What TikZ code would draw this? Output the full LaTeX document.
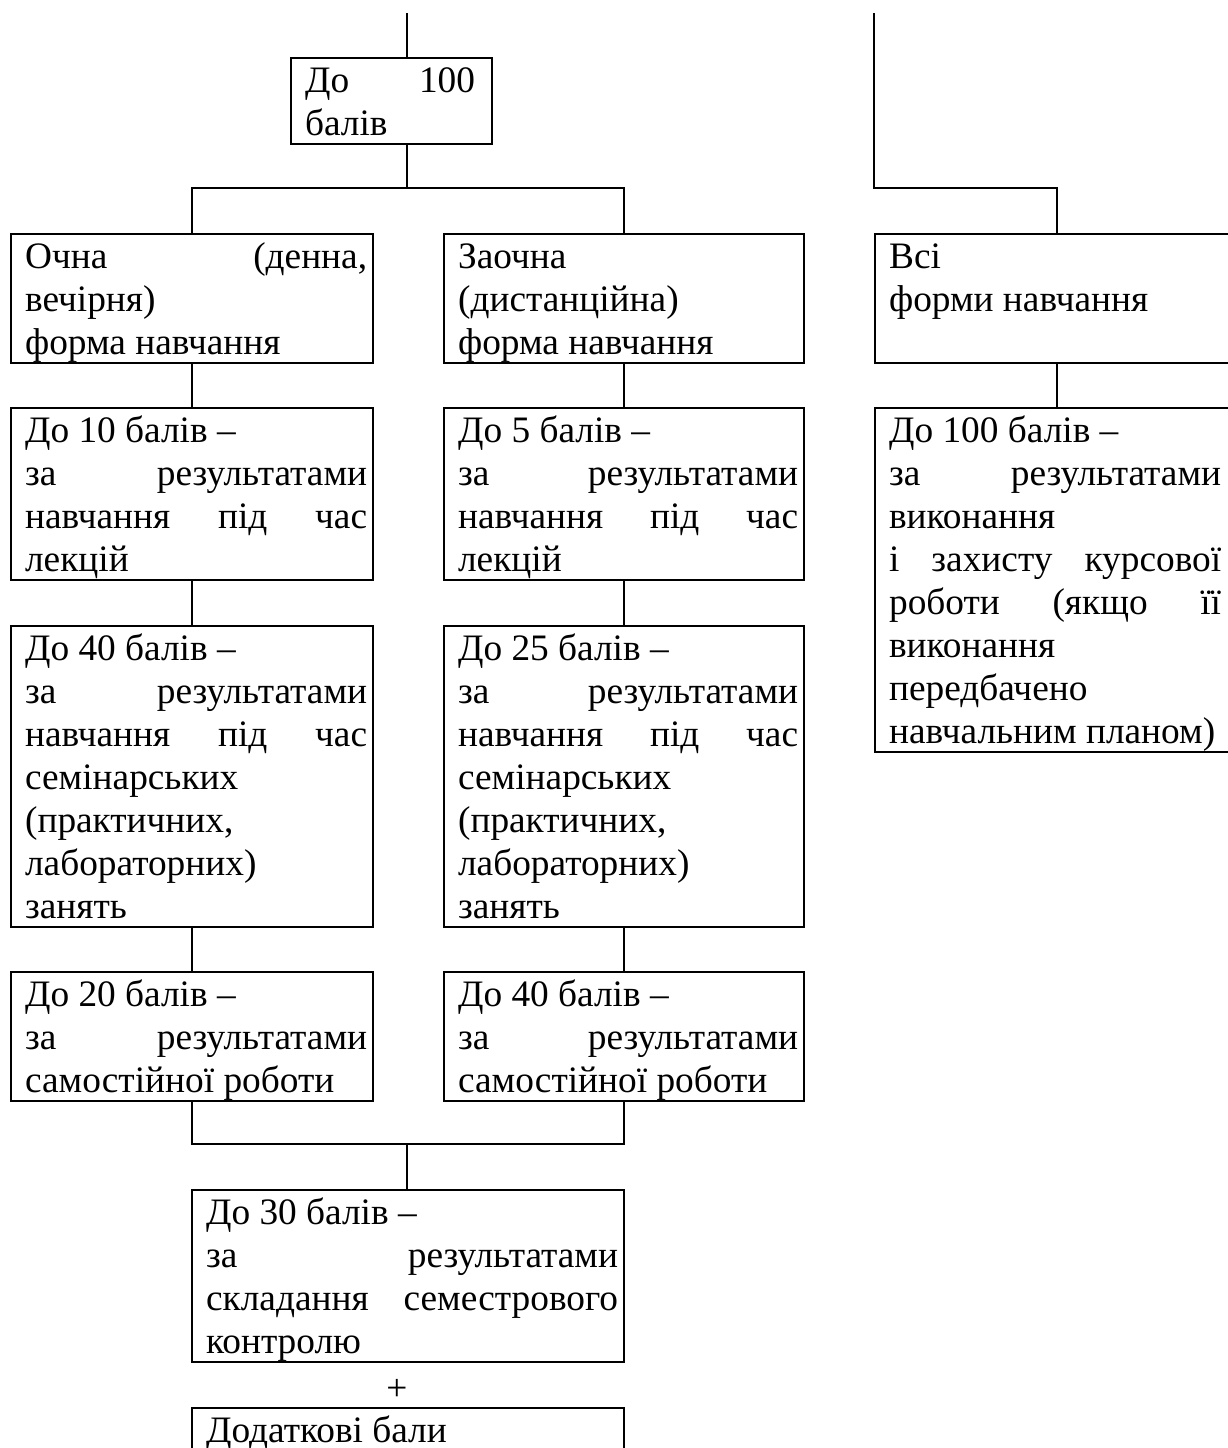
\documentclass[tikz,border=0pt]{standalone}
\usepackage{fontspec}
\setmainfont{Liberation Serif}

\newcommand{\st}{\rule[-9pt]{0pt}{43pt}}
\newcommand{\jline}[1]{\makebox[\linewidth][s]{\st#1}}
\newcommand{\lline}[1]{\st#1}

\tikzset{
  cell/.style={draw, anchor=north west, inner xsep=6pt, inner ysep=0pt,
    font=\fontsize{37.33pt}{43pt}\selectfont,
    execute at begin node={\hspace*{8pt}\begin{minipage}{#1}},
    execute at end node={\end{minipage}}},
  rpad/.style={execute at end node={\hspace*{#1}}}
}

\begin{document}
\begin{tikzpicture}[x=1pt,y=-1pt,line width=2.2pt]
  \useasboundingbox (0,0) rectangle (1227,1448);
  \coordinate (inA) at (407,13);
  \coordinate (inC) at (874,13);
  \coordinate (fork) at (407,188);
  \coordinate (join) at (407,1144);

  \node[cell=170pt,rpad=11pt] (top) at (290,57) {\jline{До 100}\\ \lline{балів}};

  \node[cell=342pt] (A1) at (10,233) {\jline{Очна (денна,}\\ \lline{вечірня)}\\ \lline{форма навчання}};
  \node[cell=340pt] (B1) at (443,233) {\lline{Заочна}\\ \lline{(дистанційна)}\\ \lline{форма навчання}};
  \node[cell=332pt,rpad=12pt] (C1) at (874,233) {\lline{Всі}\\ \lline{форми навчання}\\ \st};

  \node[cell=342pt] (A2) at (10,407) {\lline{До 10 балів –}\\ \jline{за результатами}\\ \jline{навчання під час}\\ \lline{лекцій}};
  \node[cell=340pt] (B2) at (443,407) {\lline{До 5 балів –}\\ \jline{за результатами}\\ \jline{навчання під час}\\ \lline{лекцій}};
  \node[cell=332pt,rpad=12pt] (C2) at (874,407) {\lline{До 100 балів –}\\ \jline{за результатами}\\ \lline{виконання}\\ \jline{і захисту курсової}\\ \jline{роботи (якщо її}\\ \lline{виконання}\\ \lline{передбачено}\\ \lline{навчальним планом)}};

  \node[cell=342pt] (A3) at (10,625) {\lline{До 40 балів –}\\ \jline{за результатами}\\ \jline{навчання під час}\\ \lline{семінарських}\\ \lline{(практичних,}\\ \lline{лабораторних)}\\ \lline{занять}};
  \node[cell=340pt] (B3) at (443,625) {\lline{До 25 балів –}\\ \jline{за результатами}\\ \jline{навчання під час}\\ \lline{семінарських}\\ \lline{(практичних,}\\ \lline{лабораторних)}\\ \lline{занять}};

  \node[cell=342pt] (A4) at (10,971) {\lline{До 20 балів –}\\ \jline{за результатами}\\ \lline{самостійної роботи}};
  \node[cell=340pt] (B4) at (443,971) {\lline{До 40 балів –}\\ \jline{за результатами}\\ \lline{самостійної роботи}};

  \node[cell=412pt] (D) at (191,1189) {\lline{До 30 балів –}\\ \jline{за результатами}\\ \jline{складання семестрового}\\ \lline{контролю}};
  \node[font=\fontsize{37.33pt}{43pt}\selectfont,inner sep=0pt] (plus) at (397,1390) {+};
  \node[cell=412pt] (E) at (191,1407) {\lline{Додаткові бали}\\ \st};

  \draw (inA) -- (inA |- top.north);
  \draw (inA |- top.south) -- (fork) -| (A1.north);
  \draw (fork) -| (B1.north);
  \draw (inC) -- (inC |- fork) -| (C1.north);
  \path (A1) edge (A2) (A2) edge (A3) (A3) edge (A4)
        (B1) edge (B2) (B2) edge (B3) (B3) edge (B4)
        (C1) edge (C2);
  \draw (A4.south) |- (join) -| (B4.south);
  \draw (join) -- (join |- D.north);
\end{tikzpicture}
\end{document}
